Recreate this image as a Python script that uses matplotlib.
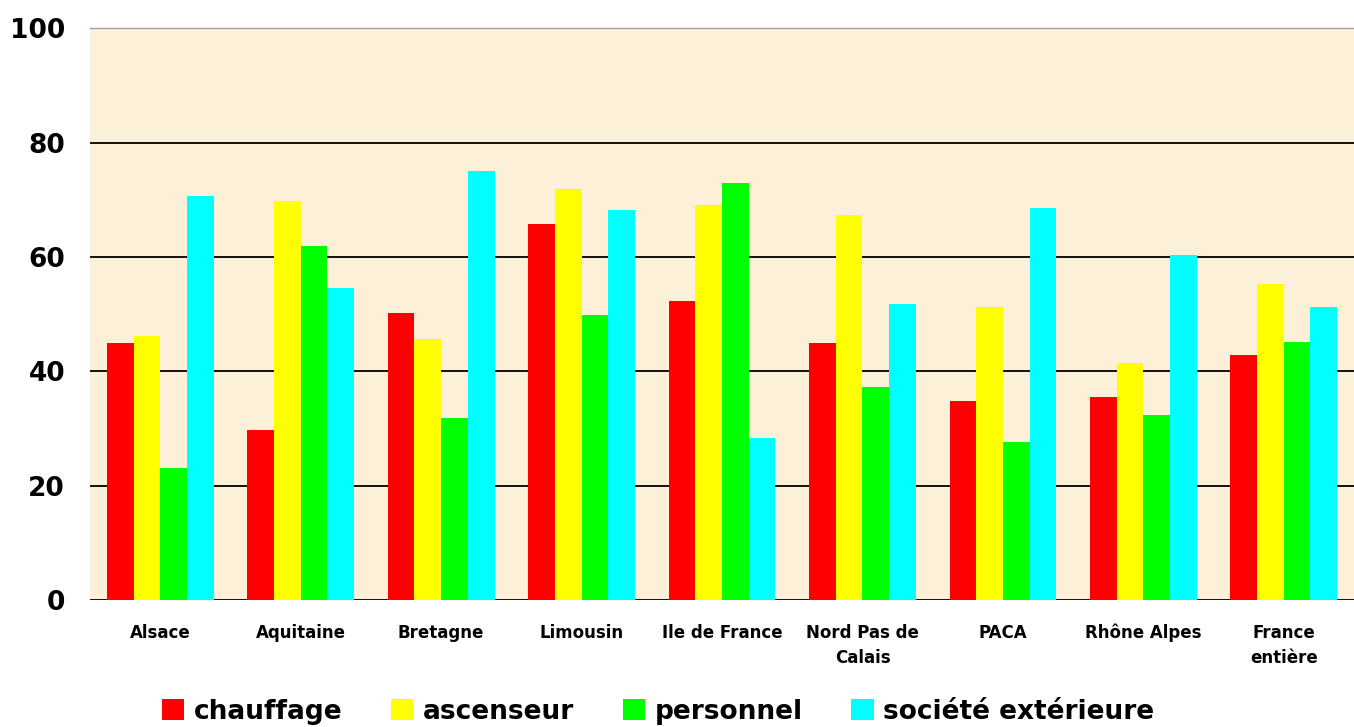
import matplotlib.pyplot as plt
import numpy as np

# regions and values (%)
regions = ["Alsace", "Aquitaine", "Bretagne", "Limousin", "Ile de France",
           "Nord Pas de\nCalais", "PACA", "Rhône Alpes", "France\nentière"]
chauffage = [44.9, 29.8, 50.2, 65.7, 52.3, 44.9, 34.8, 35.5, 42.8]
ascenseur = [46.2, 69.8, 45.6, 71.9, 69.1, 67.3, 51.2, 41.4, 55.2]
personnel = [23.1, 61.9, 31.8, 49.8, 72.9, 37.2, 27.6, 32.3, 45.1]
societe = [70.6, 54.5, 75.0, 68.2, 28.3, 51.7, 68.5, 60.3, 51.2]

series = [("chauffage", chauffage, "#FF0000"),
          ("ascenseur", ascenseur, "#FFFF00"),
          ("personnel", personnel, "#00FF00"),
          ("société extérieure", societe, "#00FFFF")]

fig = plt.figure(figsize=(13.54, 7.27), dpi=100)
ax = fig.add_axes([0.0665, 0.1747, 0.9335, 0.7863])
ax.set_facecolor("#FCF0D8")

x = np.arange(len(regions))
w = 0.19
for i, (name, vals, col) in enumerate(series):
    ax.bar(x + (i - 1.5) * w, vals, w, color=col, label=name, zorder=3, linewidth=0)

ax.set_xlim(-0.5, len(regions) - 0.5)
ax.set_ylim(0, 100)
ax.set_yticks([0, 20, 40, 60, 80, 100])
ax.yaxis.grid(True, color="black", linewidth=1.3, zorder=1)
ax.set_axisbelow(True)

ax.set_xticks(x)
ax.set_xticklabels(regions, fontsize=12, fontweight="bold", linespacing=1.5, va="top")
ax.tick_params(axis="x", length=0, pad=17)
ax.tick_params(axis="y", length=0, pad=18, labelsize=19)
for t in ax.get_yticklabels():
    t.set_fontweight("bold")

for s in ["left", "right", "bottom"]:
    ax.spines[s].set_visible(False)
ax.spines["top"].set_color("#A0A0A0")
ax.spines["top"].set_linewidth(1)

fig.legend(loc="center", bbox_to_anchor=(0.486, 0.021), ncol=4, frameon=False,
           prop={"size": 19, "weight": "bold"}, handlelength=0.85, handleheight=0.8,
           handletextpad=0.35, columnspacing=1.85, borderpad=0)

fig.savefig("out.png", dpi=100)
